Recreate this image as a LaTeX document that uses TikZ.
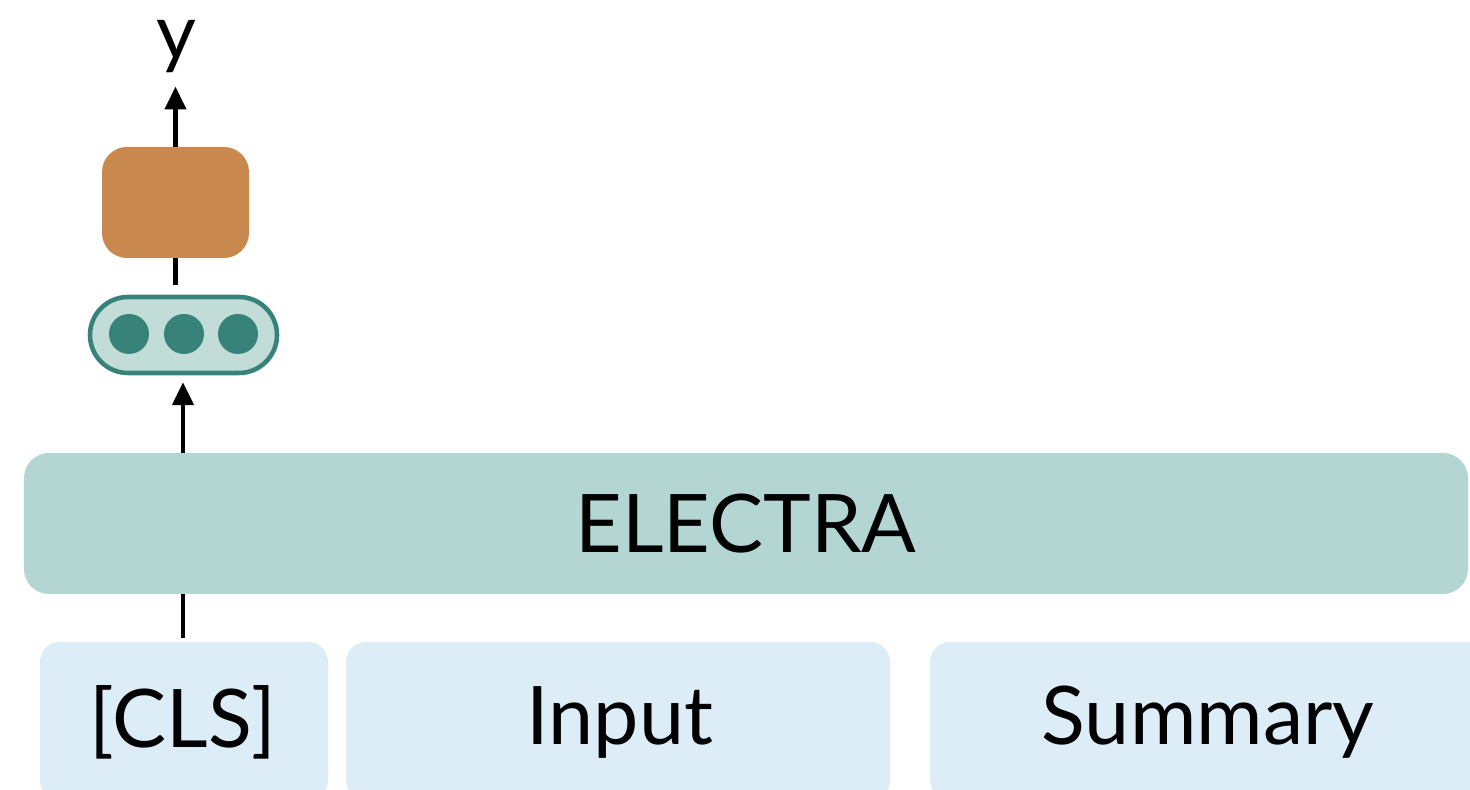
\documentclass[tikz,border=0pt]{standalone}
\usepackage{fontspec}
\setmainfont{Lato}
\usepackage{tikz}
\usetikzlibrary{arrows.meta, positioning, calc}
\definecolor{Teal}  {HTML}{B4D6D3}
\definecolor{TealD} {HTML}{37837A}
\definecolor{TealL} {HTML}{C2DCD8}
\definecolor{Sky}   {HTML}{DCEDF8}
\definecolor{Copper}{HTML}{C9894E}
\tikzset{
  seg/.style={fill=Sky, rounded corners=0.4cm, inner sep=0pt,
              font=\fontsize{46}{50}\selectfont},
  arr/.style={-{Triangle[width=12pt,length=13pt]}, line width=2.4pt},
  ln/.style={line width=2.4pt}
}

\begin{document}
\begin{tikzpicture}
  \useasboundingbox (0,0) rectangle (29.4,15.8);
  \node[fill=Teal, rounded corners=0.5cm, minimum width=28.88cm, minimum height=2.82cm,
        font=\fontsize{46}{50}\selectfont] (enc) at (14.92,5.33) {ELECTRA};
  \node[seg, minimum width=5.76cm, minimum height=3.16cm]  (cls) at (3.68,1.38)  {};
  \node[seg, minimum width=10.88cm, minimum height=3.16cm] (inp) at (12.36,1.38) {};
  \node[seg, minimum width=11.2cm, minimum height=3.16cm]  (sum) at (24.2,1.38)  {};
  \node[font=\fontsize{46}{50}\selectfont] (clst) at (3.66,1.36)  {[CLS]};
  \node[font=\fontsize{46}{50}\selectfont] (inpt) at (12.4,1.36)  {Input};
  \node[font=\fontsize{46}{50}\selectfont] (sumt) at (24.16,1.36) {Summary};
  \node[draw=TealD, fill=TealL, line width=2.6pt, rounded corners=0.76cm,
        minimum width=3.74cm, minimum height=1.52cm] (vec) at (3.67,9.1) {};
  \foreach \x/\n in {2.58/a,3.68/b,4.76/c}
    \node[circle, fill=TealD, minimum size=0.8cm, inner sep=0pt] (dot\n) at (\x,9.12) {};
  \node[fill=Copper, rounded corners=0.5cm, minimum width=2.94cm, minimum height=2.22cm] (head) at (3.51,11.75) {};
  \node[font=\fontsize{44}{48}\selectfont, text height=0.9ex, inner sep=0pt, anchor=base] (out) at (3.52,14.6) {y};
  \coordinate (c0) at (3.66,0);
  \draw[ln, shorten <=0.08cm] (c0 |- cls.north) -- (c0 |- enc.south);
  \draw[arr, shorten >=0.14cm] (c0 |- enc.north) -- (c0 |- vec.south);
  \draw[ln, shorten >=0.2cm] (head.south) -- (head.south |- vec.north);
  \draw[arr] (head.north) -- ++(0,1.2) coordinate (tip);
\end{tikzpicture}
\end{document}
